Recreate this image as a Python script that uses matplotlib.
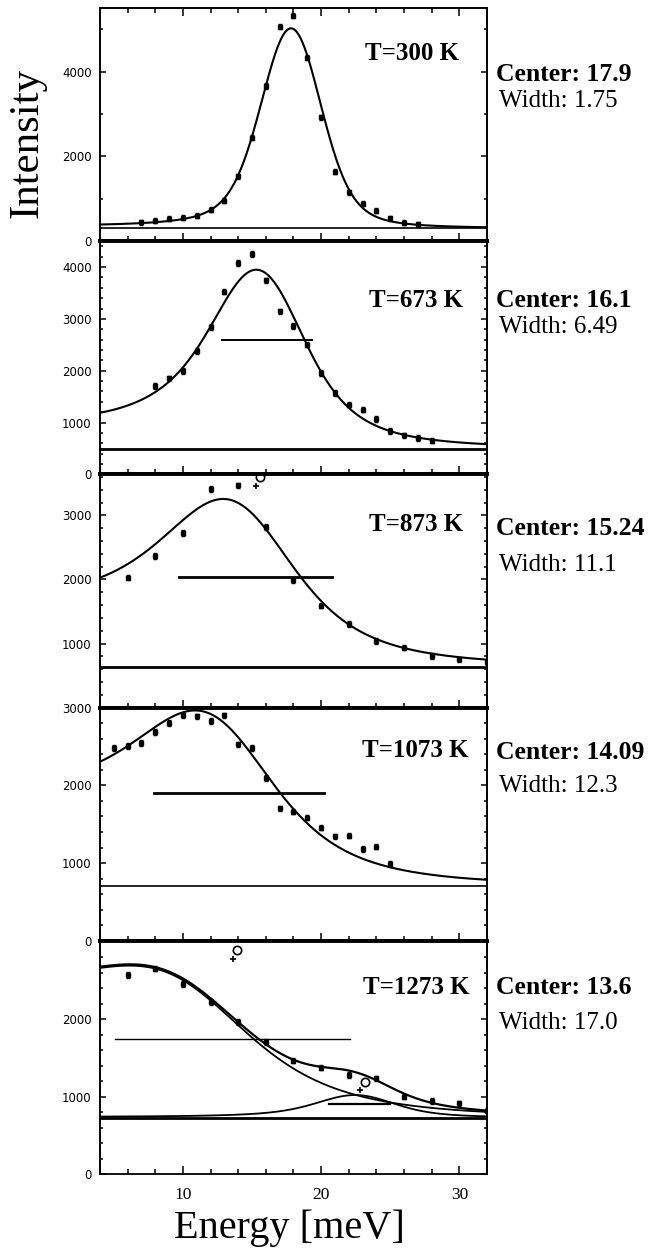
import numpy as np
import matplotlib.pyplot as plt
from matplotlib.ticker import MultipleLocator, FixedLocator, FixedFormatter

# measured spectra, one list pair per temperature
e1 = list(range(7, 28))
i1 = [445, 486, 526, 557, 597, 739, 960, 1528, 2436, 3661, 5059, 5320, 4332,
      2926, 1635, 1157, 889, 716, 541, 438, 398]
e2 = list(range(8, 29))
i2 = [1703, 1852, 1994, 2383, 2849, 3528, 4085, 4247, 3742, 3146, 2868, 2505,
      1952, 1573, 1348, 1250, 1076, 843, 751, 699, 654]
e3 = list(range(6, 33, 2))
i3 = [2031, 2366, 2731, 3411, 3468, 2819, 1995, 1593, 1309, 1042, 938, 810,
      753, 706]
e4 = list(range(5, 26))
i4 = [2478, 2504, 2543, 2684, 2800, 2899, 2887, 2826, 2899, 2526, 2478, 2092,
      1705, 1662, 1585, 1456, 1344, 1353, 1182, 1211, 988]
e5 = list(range(6, 33, 2))
i5 = [2571, 2650, 2455, 2220, 1960, 1702, 1462, 1373, 1279, 1236, 999, 943,
      913, 820]

# rejected points (open circles / crosses)
circ_e = [None, None, [15.56], None, [13.88, 23.2]]
circ_i = [None, None, [3600], None, [2894, 1193]]
plus_e = [None, None, [15.27], None, [13.63, 22.83]]
plus_i = [None, None, [3463], None, [2778, 1085]]

# fit results
temps = [300, 673, 873, 1073, 1273]
centers = [17.9, 16.1, 15.24, 14.09, 13.6]
widths = [1.75, 6.49, 11.1, 12.3, 17.0]
backgrounds = [300, 500, 640, 705, 727]
peaks = [5020, 3950, 3257, 2964, 2690]
bar_levels = [None, 2590, 2040, 1900, 1744]
# extra mode at 1273 K
c2_center, c2_width, c2_peak, c2_bar = 22.75, 4.4, 1020, 904

errs = [60, 55, 45, 35, 35]
ytops = [5500, 4500, 3640, 3000, 3010]
ymajor = [[0, 2000, 4000], [0, 1000, 2000, 3000, 4000], [0, 1000, 2000, 3000],
          [0, 1000, 2000, 3000], [0, 1000, 2000]]
ylabels = [['0', '2000', '4000'], ['0', '1000', '2000', '3000', '4000'],
           ['', '1000', '2000', '3000'], ['0', '1000', '2000', '3000'],
           ['0', '1000', '2000']]
yminor = [1000, 200, 200, 200, 200]

energies = [e1, e2, e3, e4, e5]
counts = [i1, i2, i3, i4, i5]

SERIF = 'Liberation Serif'
RES = 1.8      # gaussian resolution sigma, meV
kB = 0.08617   # meV/K
grid = np.arange(-20.005, 60, 0.01)
win = (grid >= 4) & (grid <= 32)


def dho(E0, G, T):
    bose = grid / -np.expm1(-grid / (kB * T))
    s = bose * G / ((grid**2 - E0**2)**2 + (grid * G)**2)
    k = np.arange(-6 * RES, 6 * RES + 1e-9, 0.01)
    kern = np.exp(-0.5 * (k / RES)**2)
    s = np.convolve(s, kern / kern.sum(), mode='same')
    return s / s[win].max()


fig, axes = plt.subplots(5, 1, figsize=(6.54, 12.49), dpi=100, sharex=True)
fig.subplots_adjust(left=0.1529, right=0.7446, top=0.9936, bottom=0.0600, hspace=0)

t_pos = [(0.928, 0.775), (0.938, 0.72), (0.938, 0.756), (0.952, 0.788), (0.955, 0.772)]
c_pos = [0.689, 0.72, 0.742, 0.781, 0.772]
w_pos = [0.577, 0.606, 0.588, 0.638, 0.623]
base_lw = [1.2, 2.0, 2.0, 1.2, 2.0]
bar_lw = [1.5, 1.4, 2.0, 2.0, 1.0]

for n, ax in enumerate(axes):
    bg = backgrounds[n]
    main = dho(centers[n], widths[n], temps[n]) * (peaks[n] - bg)
    ax.axhline(bg, color='k', lw=base_lw[n])
    if n == 4:
        extra = dho(c2_center, c2_width, temps[n]) * (c2_peak - bg)
        ax.plot(grid[win], bg + main[win], color='k', lw=1.3)
        ax.plot(grid[win], bg + extra[win], color='k', lw=1.3)
        ax.plot(grid[win], bg + main[win] + extra[win], color='k', lw=1.6)
        ax.plot([c2_center - c2_width / 2, c2_center + c2_width / 2], [c2_bar, c2_bar],
                color='k', lw=1.6)
    else:
        ax.plot(grid[win], bg + main[win], color='k', lw=1.5)
    if bar_levels[n] is not None:
        ax.plot([centers[n] - widths[n] / 2, centers[n] + widths[n] / 2],
                [bar_levels[n], bar_levels[n]], color='k', lw=bar_lw[n])

    ax.errorbar(energies[n], counts[n], yerr=errs[n], fmt='s', ms=2.6, color='k',
                elinewidth=1.0, capsize=1.6, capthick=1.0)
    if circ_e[n]:
        ax.plot(circ_e[n], circ_i[n], 'o', ms=6, mfc='none', mec='k', mew=1.2)
        ax.plot(plus_e[n], plus_i[n], '+', ms=5, color='k', mew=1.2)

    ax.set_xlim(4, 32)
    ax.set_ylim(0, ytops[n])
    ax.xaxis.set_major_locator(MultipleLocator(10))
    ax.xaxis.set_minor_locator(MultipleLocator(2))
    ax.yaxis.set_major_locator(FixedLocator(ymajor[n]))
    ax.yaxis.set_major_formatter(FixedFormatter(ylabels[n]))
    ax.yaxis.set_minor_locator(MultipleLocator(yminor[n]))
    ax.tick_params(axis='y', which='both', direction='in', left=True, right=True,
                   width=1.1, labelsize=8.5, pad=6)
    ax.tick_params(axis='y', which='major', length=4.5)
    ax.tick_params(axis='y', which='minor', length=2.5)

    if n < 4:
        ax.tick_params(axis='x', which='both', direction='inout', bottom=True,
                       top=False, width=1.1, labelbottom=False)
        ax.tick_params(axis='x', which='major', length=11)
        ax.tick_params(axis='x', which='minor', length=7)
        ax.spines['bottom'].set_linewidth(2.8)
    else:
        ax.tick_params(axis='x', which='both', direction='in', bottom=True,
                       top=False, width=1.1, labelsize=12.5, pad=9,
                       labelfontfamily=SERIF)
        ax.tick_params(axis='x', which='major', length=6)
        ax.tick_params(axis='x', which='minor', length=3.5)
        ax.spines['bottom'].set_linewidth(1.3)
    ax.spines['top'].set_linewidth(2.8 if n > 0 else 1.2)
    ax.spines['left'].set_linewidth(1.4)
    ax.spines['right'].set_linewidth(1.4)

    ax.text(t_pos[n][0], t_pos[n][1], 'T=%d K' % temps[n], transform=ax.transAxes,
            ha='right', va='baseline', fontsize=18, fontweight='bold', family=SERIF)
    ax.text(1.023, c_pos[n], 'Center: %s' % centers[n], transform=ax.transAxes,
            ha='left', va='baseline', fontsize=18.5, fontweight='bold', family=SERIF)
    ax.text(1.032, w_pos[n], 'Width: %s' % ('%.2f' % widths[n] if n < 2 else '%.1f' % widths[n]),
            transform=ax.transAxes, ha='left', va='baseline', fontsize=18, family=SERIF)

# top edge ticks of the first panel point inward
top = axes[0].secondary_xaxis('top')
top.xaxis.set_major_locator(MultipleLocator(10))
top.xaxis.set_minor_locator(MultipleLocator(2))
top.tick_params(axis='x', which='both', direction='in', width=1.1, labeltop=False)
top.tick_params(axis='x', which='major', length=6)
top.tick_params(axis='x', which='minor', length=3.5)
top.spines['top'].set_linewidth(1.2)

fig.text(0.042, 0.8855, 'Intensity', rotation=90, ha='center', va='center',
         fontsize=31, family=SERIF)
fig.text(0.442, 0.009, 'Energy [meV]', ha='center', va='baseline',
         fontsize=29, family=SERIF)

fig.savefig('out.png', dpi=100)
